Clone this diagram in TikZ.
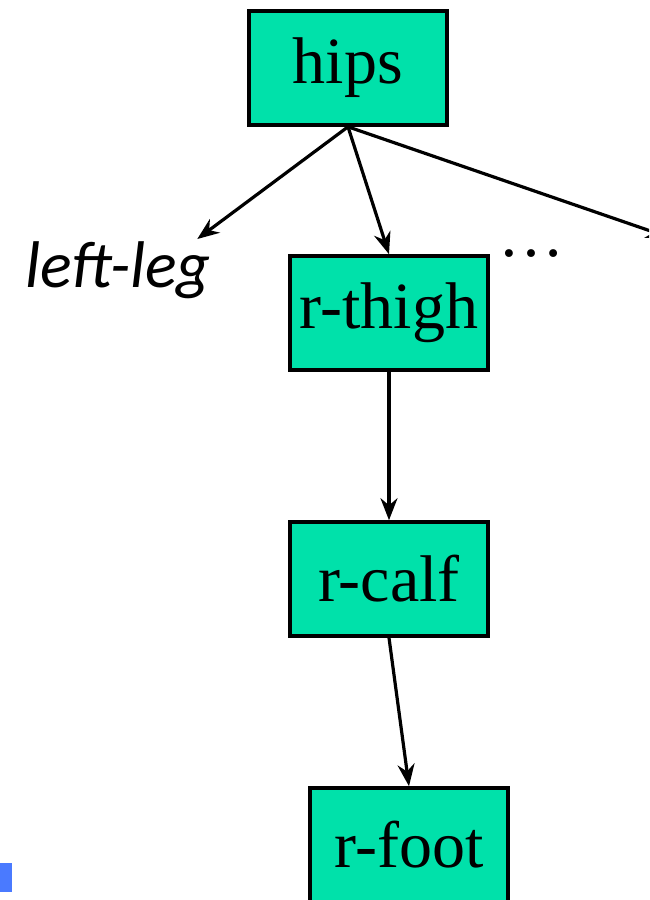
\documentclass[tikz,border=0pt]{standalone}
\usepackage{fontspec}
\setmainfont{Liberation Serif}
\newfontfamily\legfont{Carlito}
\usetikzlibrary{arrows.meta,positioning}
\definecolor{bonegreen}{RGB}{0,225,170}
\definecolor{markblue}{RGB}{74,122,255}

\begin{document}
\begin{tikzpicture}[
    x=0.5pt, y=-0.5pt,
    bone/.style={draw, line width=1.8pt, fill=bonegreen, minimum width=99pt, minimum height=57pt, inner sep=0pt, font=\fontsize{33}{36}\selectfont},
    arrow/.style={-{Stealth[length=11pt,width=8.5pt]}, line width=1.6pt}
]
    \useasboundingbox (0,0) rectangle (649,900);
    \clip (0,0) rectangle (649,900);
    \node[bone] (hips) at (348,68) {hips};
    \node[bone] (thigh) at (389,313) {r-thigh};
    \node[bone] (calf) at (389,579) {r-calf};
    \node[bone] (foot) at (409,845) {r-foot};
    \node[inner sep=1pt, font=\legfont\itshape\fontsize{33}{36}\selectfont] (leftleg) at (118,270) {left-leg};
    \node[font=\fontsize{33}{36}\selectfont] (more) at (531,254) {\dots};
    \coordinate (offright) at (668,237);

    \draw[arrow] (hips.south) -- ([xshift=-8pt]leftleg.north east);
    \draw[arrow] (hips.south) -- (thigh.north);
    \draw[arrow] (hips.south) -- (offright);
    \draw[arrow] (thigh) -- (calf);
    \draw[arrow] (calf.south) -- (foot.north);

    \fill[markblue] (0,863) rectangle (12,892);
\end{tikzpicture}
\end{document}
